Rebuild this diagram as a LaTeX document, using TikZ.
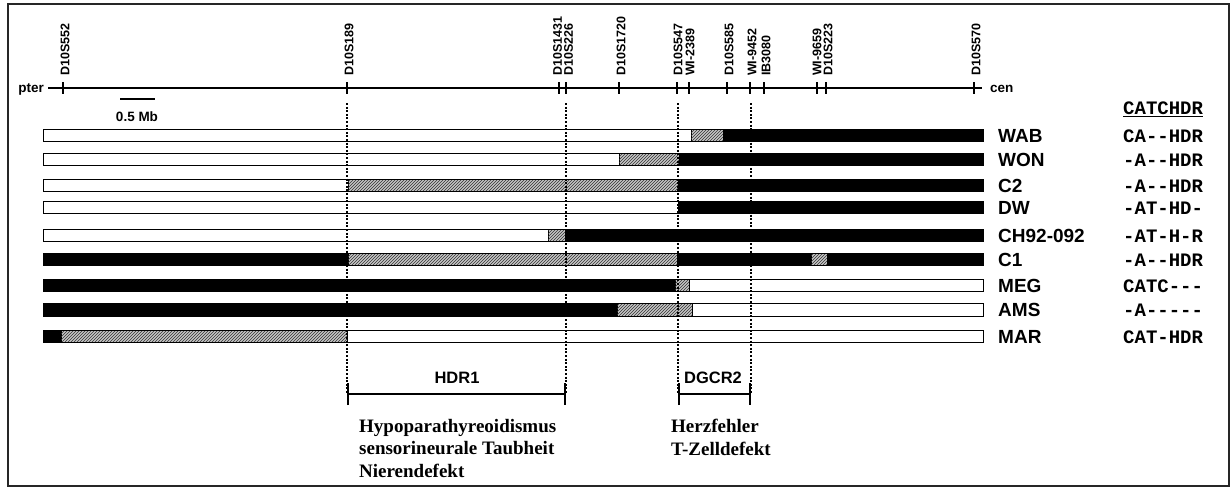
\documentclass[tikz,border=0pt]{standalone}
\usepackage{fontspec}
\setmainfont{Liberation Serif}
\setsansfont{Liberation Sans}
\setmonofont{Liberation Mono}
\usetikzlibrary{patterns,arrows.meta}

\begin{document}
\begin{tikzpicture}[x=1pt, y=-1pt,
  every node/.style={inner sep=0pt},
  frame/.style={draw=black!85, line width=1.6pt},
  axisline/.style={line width=2pt},
  tickline/.style={line width=2pt},
  mlabel/.style={font=\sffamily\bfseries\fontsize{12.5}{14}\selectfont, rotate=90, anchor=west},
  small/.style={font=\sffamily\bfseries\fontsize{13.5}{16}\selectfont},
  bar/.style={draw, line width=0.9pt},
  blk/.style={fill=black},
  hatch/.style={draw, line width=0.6pt, fill=gray!45, postaction={pattern=north east lines, pattern color=black!80}},
  guide/.style={line width=2pt, dash pattern=on 2pt off 1.6pt},
  brk/.style={line width=2pt, {Bar[width=22pt]}-{Bar[width=22pt]}},
  pname/.style={font=\sffamily\bfseries\fontsize{19}{22}\selectfont, anchor=west},
  code/.style={font=\ttfamily\bfseries\fontsize{19}{22}\selectfont, anchor=west},
  region/.style={font=\sffamily\bfseries\fontsize{16.5}{19}\selectfont},
  pheno/.style={font=\rmfamily\bfseries\fontsize{19}{22.5}\selectfont, align=left, anchor=north west}
]
\useasboundingbox (0,0) rectangle (1232,488);
\draw[frame] (8,4) rectangle (1229,486);

% chromosome axis
\node[small, anchor=east] (pter) at (44,89) {pter};
\node[small, anchor=west] (cen) at (990,89) {cen};
\coordinate (ax0) at (48,88);
\coordinate (ax1) at (982,88);
\draw[axisline] (ax0) -- (ax1);

% markers
\draw[tickline] (63,82) -- (63,94);   \node[mlabel] (s552) at (65,76) {D10S552};
\draw[tickline] (347,82) -- (347,94); \node[mlabel] (s189) at (349,76) {D10S189};
\draw[tickline] (559,82) -- (559,94); \node[mlabel] (s1431) at (557.5,76) {D10S1431};
\draw[tickline] (566,82) -- (566,94); \node[mlabel] (s226) at (568.5,76) {D10S226};
\draw[tickline] (619,82) -- (619,94); \node[mlabel] (s1720) at (621,76) {D10S1720};
\draw[tickline] (677,82) -- (677,94); \node[mlabel] (s547) at (678,76) {D10S547};
\draw[tickline] (689,82) -- (689,94); \node[mlabel] (w2389) at (690,76) {WI-2389};
\draw[tickline] (727,82) -- (727,94); \node[mlabel] (s585) at (729,76) {D10S585};
\draw[tickline] (750,82) -- (750,94); \node[mlabel] (w9452) at (752,76) {WI-9452};
\draw[tickline] (764,82) -- (764,94); \node[mlabel] (ib3080) at (766,76) {IB3080};
\draw[tickline] (817,82) -- (817,94); \node[mlabel] (w9659) at (817,76) {WI-9659};
\draw[tickline] (826,82) -- (826,94); \node[mlabel] (s223) at (828,76) {D10S223};
\draw[tickline] (974,82) -- (974,94); \node[mlabel] (s570) at (976,76) {D10S570};

% scale bar
\coordinate (sb0) at (120,99);
\coordinate (sb1) at (155,99);
\draw[line width=2pt] (sb0) -- (sb1);
\node[small] (sbl) at (137,117) {0.5 Mb};

\node[code] (hdr) at (1123,109) {\underline{CATCHDR}};

% WAB
\path[hatch] (691,129) rectangle (723,141);
\path[blk] (723,129) rectangle (983,141);
\draw[bar] (43,129) rectangle (983,141);
\node[pname] (wab) at (998,136) {WAB};
\node[code] (wabc) at (1123,136) {CA-{}-HDR};
% WON
\path[hatch] (619,153) rectangle (679,165);
\path[blk] (679,153) rectangle (983,165);
\draw[bar] (43,153) rectangle (983,165);
\node[pname] (won) at (998,160) {WON};
\node[code] (wonc) at (1123,160) {-A-{}-HDR};
% C2
\path[hatch] (348,179) rectangle (678,191);
\path[blk] (678,179) rectangle (983,191);
\draw[bar] (43,179) rectangle (983,191);
\node[pname] (ctwo) at (998,186) {C2};
\node[code] (ctwoc) at (1123,186) {-A-{}-HDR};
% DW
\path[blk] (678,201) rectangle (983,213);
\draw[bar] (43,201) rectangle (983,213);
\node[pname] (dw) at (998,208) {DW};
\node[code] (dwc) at (1123,208) {-AT-HD-};
% CH92-092
\path[hatch] (548,229) rectangle (565,241);
\path[blk] (565,229) rectangle (983,241);
\draw[bar] (43,229) rectangle (983,241);
\node[pname] (ch) at (998,236) {CH92-092};
\node[code] (chc) at (1123,236) {-AT-H-R};
% C1
\path[blk] (43,253) rectangle (348,265);
\path[hatch] (348,253) rectangle (677,265);
\path[blk] (677,253) rectangle (811,265);
\path[hatch] (811,253) rectangle (827,265);
\path[blk] (827,253) rectangle (983,265);
\draw[bar] (43,253) rectangle (983,265);
\node[pname] (cone) at (998,260) {C1};
\node[code] (conec) at (1123,260) {-A-{}-HDR};
% MEG
\path[blk] (43,279) rectangle (675,291);
\path[hatch] (675,279) rectangle (689,291);
\draw[bar] (43,279) rectangle (983,291);
\node[pname] (meg) at (998,286) {MEG};
\node[code] (megc) at (1123,286) {CATC-{}-{}-};
% AMS
\path[blk] (43,303) rectangle (617,316);
\path[hatch] (617,303) rectangle (692,316);
\draw[bar] (43,303) rectangle (983,316);
\node[pname] (ams) at (998,310) {AMS};
\node[code] (amsc) at (1123,310) {-A-{}-{}-{}-{}-};
% MAR
\path[blk] (43,330) rectangle (61,342);
\path[hatch] (61,330) rectangle (347,342);
\draw[bar] (43,330) rectangle (983,342);
\node[pname] (mar) at (998,337) {MAR};
\node[code] (marc) at (1123,337) {CAT-HDR};

% critical regions
\coordinate (g189) at (347,103);
\coordinate (g226) at (566,103);
\coordinate (g547) at (678,103);
\coordinate (g9452) at (751,103);
\coordinate (hdrL) at (347,394);
\coordinate (hdrR) at (566,394);
\coordinate (dgL) at (678,394);
\coordinate (dgR) at (751,394);
\draw[guide] (g189) -- (hdrL);
\draw[guide] (g226) -- (hdrR);
\draw[guide] (g547) -- (dgL);
\draw[guide] (g9452) -- (dgR);
\draw[brk] (hdrL) -- (hdrR);
\draw[brk] (dgL) -- (dgR);
\node[region] (hdrone) at (457,378) {HDR1};
\node[region] (dgcr) at (713,378) {DGCR2};

\node[pheno] (hdrtext) at (359,419) {Hypoparathyreoidismus\\sensorineurale Taubheit\\Nierendefekt};
\node[pheno] (dgtext) at (671,419) {Herzfehler\\T-Zelldefekt};
\end{tikzpicture}
\end{document}
